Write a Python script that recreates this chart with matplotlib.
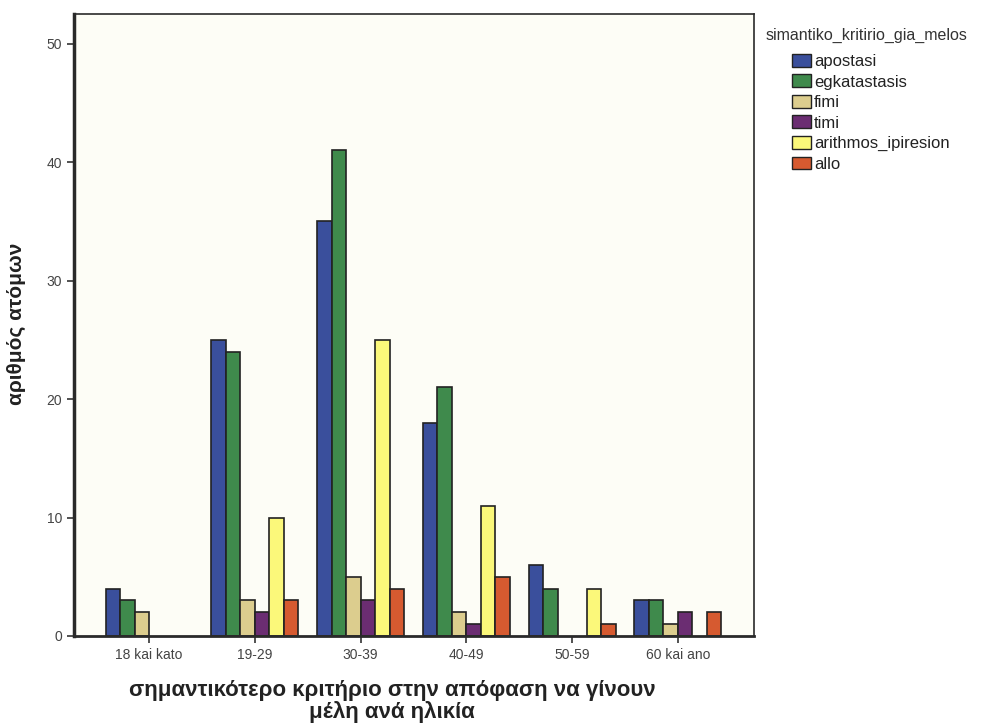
import matplotlib.pyplot as plt
import numpy as np

plt.rcParams['font.family'] = ['Liberation Sans', 'DejaVu Sans']

ages = ["18 kai kato", "19-29", "30-39", "40-49", "50-59", "60 kai ano"]
criteria = ["apostasi", "egkatastasis", "fimi", "timi", "arithmos_ipiresion", "allo"]
apostasi = [4, 25, 35, 18, 6, 3]
egkatastasis = [3, 24, 41, 21, 4, 3]
fimi = [2, 3, 5, 2, 0, 1]
timi = [0, 2, 3, 1, 0, 2]
arithmos_ipiresion = [0, 10, 25, 11, 4, 0]
allo = [0, 3, 4, 5, 1, 2]
series = [apostasi, egkatastasis, fimi, timi, arithmos_ipiresion, allo]
colors = ["#3a4f9c", "#3f8a4c", "#dccd8e", "#6b2d72", "#fbf87a", "#d65a30"]

fig = plt.figure(figsize=(9.89, 7.28), dpi=100)
ax = fig.add_axes([0.0748, 0.1264, 0.6876, 0.8544])
ax.set_facecolor("#fdfdf6")

x = np.arange(len(ages))
w = 0.137
for i, (vals, c, name) in enumerate(zip(series, colors, criteria)):
    pos = x + (i - 2.5) * w
    v = np.array(vals)
    ax.bar(pos[v > 0], v[v > 0], width=w, color=c, edgecolor="#222222",
           linewidth=1.2, label=name)

ax.set_xlim(-0.71, 5.72)
ax.set_ylim(0, 52.5)
ax.set_yticks([0, 10, 20, 30, 40, 50])
ax.set_xticks(x)
ax.set_xticklabels(ages)
ax.tick_params(axis="both", colors="#333333", labelcolor="#444444",
               labelsize=10, length=5, width=1.2)
for s in ax.spines.values():
    s.set_color("#2a2a2a")
    s.set_linewidth(1.2)
ax.spines["left"].set_linewidth(2.5)
ax.spines["bottom"].set_linewidth(2)

ax.set_ylabel("αριθμός ατόμων", fontsize=15, fontweight="bold", color="#222222")
ax.yaxis.set_label_coords(-0.07, 0.502)
ax.set_xlabel("σημαντικότερο κριτήριο στην απόφαση να γίνουν\nμέλη ανά ηλικία",
              fontsize=16, fontweight="bold", color="#222222", linespacing=1.0)
ax.xaxis.set_label_coords(0.468, -0.07)

fig.text(0.7745, 0.952, "simantiko_kritirio_gia_melos", fontsize=11.5, color="#333333",
         va="center", ha="left")
leg = fig.legend(loc="upper left", bbox_to_anchor=(0.801, 0.926),
                 fontsize=12, frameon=False, handlelength=1.1,
                 handleheight=0.8, handletextpad=0.2, labelspacing=0.32,
                 borderpad=0.0, borderaxespad=0.0)
for t in leg.get_texts():
    t.set_color("#222222")
for p in leg.legend_handles:
    p.set_linewidth(1.0)

fig.savefig("out.png", dpi=100)
